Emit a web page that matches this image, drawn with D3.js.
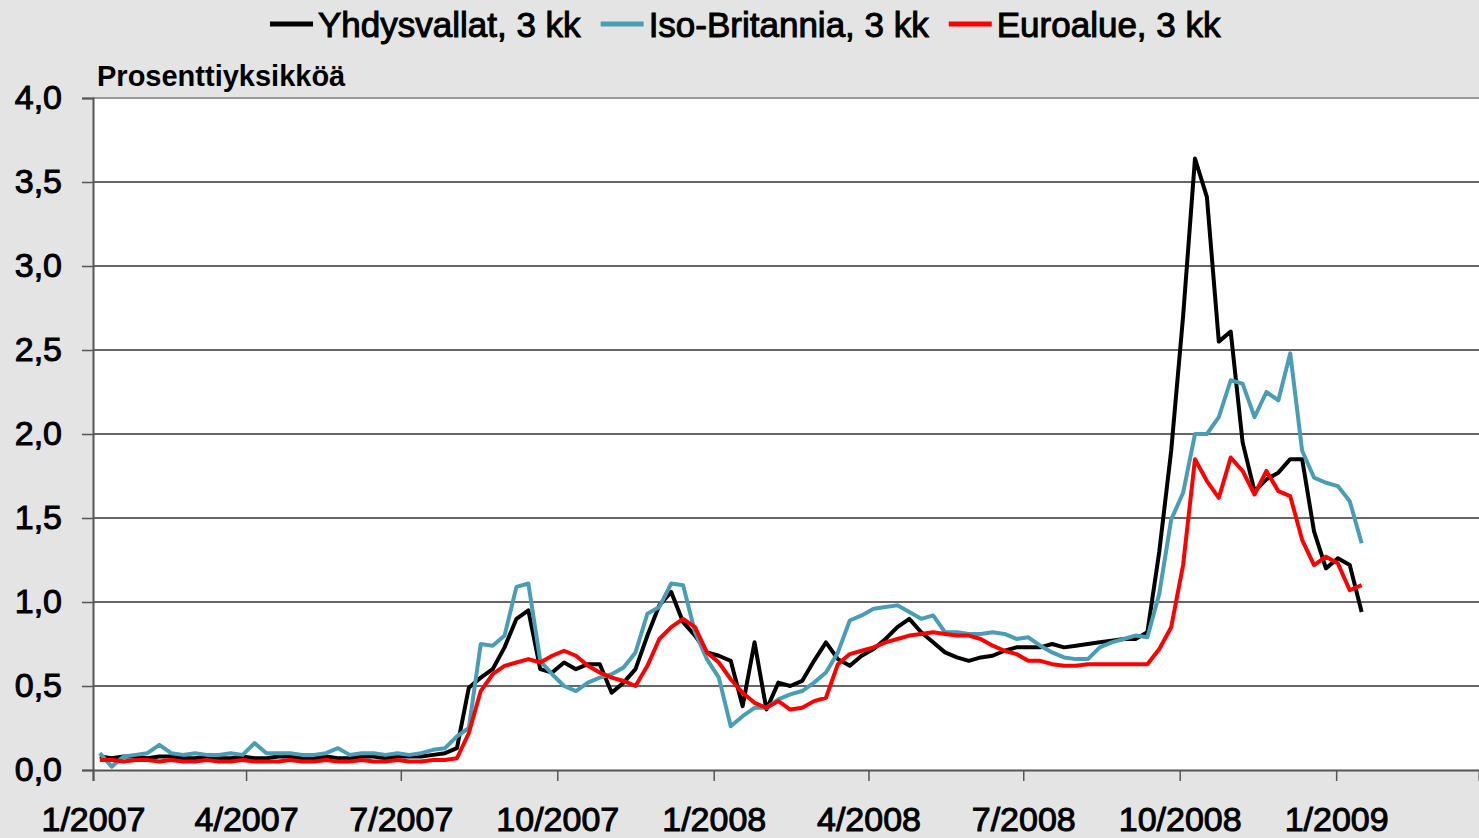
<!DOCTYPE html>
<html>
<head>
<meta charset="utf-8">
<script src="https://cdn.jsdelivr.net/npm/d3@7"></script>
<style>
  body { margin: 0; background: #e3e4e3; }
  text { font-family: "Liberation Sans", Arial, sans-serif; }
</style>
</head>
<body>
<svg id="chart"></svg>
<script>
// weekly observations (Fridays), Jan 2007 - Jan 2009
var weeks = d3.timeDay.range(new Date(2007, 0, 5), new Date(2009, 0, 17), 7);

var seriesNames = ["Yhdysvallat, 3 kk", "Iso-Britannia, 3 kk", "Euroalue, 3 kk"];
var seriesColors = ["#000000", "#4a9db6", "#ff0000"];

var usSpread = [
  0.08, 0.07, 0.08, 0.08, 0.07, 0.08, 0.08, 0.07, 0.07, 0.08,
  0.07, 0.07, 0.08, 0.07, 0.07, 0.08, 0.08, 0.07, 0.07, 0.08,
  0.07, 0.07, 0.08, 0.08, 0.07, 0.08, 0.08, 0.08, 0.09, 0.10,
  0.13, 0.49, 0.55, 0.60, 0.73, 0.90, 0.95, 0.60, 0.58, 0.64,
  0.60, 0.63, 0.63, 0.46, 0.52, 0.60, 0.80, 0.98, 1.06, 0.88,
  0.80, 0.70, 0.68, 0.65, 0.38, 0.76, 0.36, 0.52, 0.50, 0.53,
  0.65, 0.76, 0.66, 0.62, 0.68, 0.72, 0.78, 0.85, 0.90, 0.82,
  0.76, 0.70, 0.67, 0.65, 0.67, 0.68, 0.71, 0.73, 0.73, 0.73,
  0.75, 0.73, 0.74, 0.75, 0.76, 0.77, 0.78, 0.78, 0.82, 1.30,
  1.90, 2.70, 3.64, 3.41, 2.55, 2.61, 1.95, 1.66, 1.73, 1.77,
  1.85, 1.85, 1.42, 1.20, 1.26, 1.22, 0.94
];

var ukSpread = [
  0.10, 0.02, 0.08, 0.09, 0.10, 0.15, 0.10, 0.09, 0.10, 0.09,
  0.09, 0.10, 0.09, 0.16, 0.10, 0.10, 0.10, 0.09, 0.09, 0.10,
  0.13, 0.09, 0.10, 0.10, 0.09, 0.10, 0.09, 0.10, 0.12, 0.13,
  0.20, 0.25, 0.75, 0.74, 0.80, 1.09, 1.11, 0.65, 0.57, 0.50,
  0.47, 0.52, 0.55, 0.57, 0.61, 0.70, 0.93, 0.97, 1.11, 1.10,
  0.82, 0.66, 0.55, 0.26, 0.32, 0.37, 0.37, 0.42, 0.45, 0.47,
  0.52, 0.58, 0.70, 0.89, 0.92, 0.96, 0.97, 0.98, 0.94, 0.90,
  0.92, 0.82, 0.82, 0.81, 0.81, 0.82, 0.81, 0.78, 0.79, 0.74,
  0.70, 0.67, 0.66, 0.66, 0.73, 0.76, 0.78, 0.80, 0.79, 1.05,
  1.49, 1.65, 2.00, 2.00, 2.10, 2.32, 2.30, 2.10, 2.25, 2.20,
  2.48, 1.90, 1.74, 1.71, 1.69, 1.60, 1.35
];

var euroSpread = [
  0.06, 0.06, 0.05, 0.06, 0.06, 0.05, 0.06, 0.05, 0.05, 0.06,
  0.05, 0.05, 0.06, 0.05, 0.05, 0.05, 0.06, 0.05, 0.05, 0.06,
  0.05, 0.05, 0.06, 0.05, 0.05, 0.06, 0.05, 0.05, 0.06, 0.06,
  0.07, 0.22, 0.47, 0.57, 0.62, 0.64, 0.66, 0.64, 0.68, 0.71,
  0.68, 0.62, 0.58, 0.55, 0.53, 0.50, 0.62, 0.78, 0.85, 0.90,
  0.85, 0.70, 0.64, 0.54, 0.46, 0.40, 0.37, 0.41, 0.36, 0.37,
  0.41, 0.43, 0.63, 0.69, 0.71, 0.73, 0.76, 0.78, 0.80, 0.81,
  0.82, 0.81, 0.80, 0.80, 0.78, 0.74, 0.71, 0.69, 0.65, 0.65,
  0.63, 0.62, 0.62, 0.63, 0.63, 0.63, 0.63, 0.63, 0.63, 0.72,
  0.85, 1.22, 1.85, 1.72, 1.62, 1.86, 1.78, 1.64, 1.78, 1.66,
  1.63, 1.37, 1.22, 1.27, 1.23, 1.07, 1.10
];

var yTicks = [0, 0.5, 1, 1.5, 2, 2.5, 3, 3.5, 4];
var yLabel = "Prosenttiyksikköä";

var width = 1479, height = 838;
var plotLeft = 93, plotRight = 1479, plotTop = 98, plotBottom = 770;

var svg = d3.select("#chart")
    .attr("width", width)
    .attr("height", height);

svg.append("rect")
    .attr("width", width).attr("height", height)
    .attr("fill", "#e3e4e3");

svg.append("rect")
    .attr("x", plotLeft).attr("y", plotTop)
    .attr("width", plotRight - plotLeft).attr("height", plotBottom - plotTop)
    .attr("fill", "#ffffff");

var x = d3.scaleTime()
    .domain([new Date(2007, 0, 1), new Date(2009, 2, 26)])
    .range([plotLeft, plotRight]);

var y = d3.scaleLinear()
    .domain([0, 4])
    .range([plotBottom, plotTop]);

// horizontal grid
svg.append("g")
  .selectAll("line")
    .data(yTicks.filter(function(d) { return d > 0; }))
  .enter().append("line")
    .attr("x1", plotLeft).attr("x2", plotRight)
    .attr("y1", function(d) { return y(d); })
    .attr("y2", function(d) { return y(d); })
    .attr("stroke", function(d) { return d == 4 ? "#9a9a9a" : "#666"; })
    .attr("stroke-width", 2);

// y axis
var yAxis = svg.append("g")
    .attr("transform", "translate(" + plotLeft + ",0)")
    .call(d3.axisLeft(y)
      .tickValues(yTicks)
      .tickSize(11)
      .tickPadding(20)
      .tickFormat(function(d) { return d3.format(".1f")(d).replace(".", ","); }));

// x axis
var xAxis = svg.append("g")
    .attr("transform", "translate(0," + plotBottom + ")")
    .call(d3.axisBottom(x)
      .ticks(d3.timeMonth.every(3))
      .tickSize(11)
      .tickPadding(26)
      .tickFormat(function(d) { return (d.getMonth() + 1) + "/" + d.getFullYear(); }));

[yAxis, xAxis].forEach(function(ax) {
  ax.select(".domain").attr("stroke", "#555").attr("stroke-width", 2);
  ax.selectAll(".tick line").attr("stroke", "#555").attr("stroke-width", 1.5);
  ax.selectAll(".tick text")
      .style("font-family", "'Liberation Sans', Arial, sans-serif")
      .style("font-size", "34px")
      .attr("fill", "#000")
      .attr("stroke", "#000")
      .attr("stroke-width", 1);
});
xAxis.selectAll(".tick").filter(function(d) { return d > new Date(2009, 0, 2); }).remove();

svg.append("text")
    .attr("x", 97).attr("y", 86)
    .style("font-size", "29px")
    .style("font-weight", "bold")
    .text(yLabel);

// lines
var allSeries = [usSpread, ukSpread, euroSpread];
var line = d3.line()
    .x(function(d, i) { return x(weeks[i]); })
    .y(function(d) { return y(d); });

svg.append("g")
  .selectAll("path")
    .data(allSeries)
  .enter().append("path")
    .attr("d", line)
    .attr("fill", "none")
    .attr("stroke", function(d, i) { return seriesColors[i]; })
    .attr("stroke-width", 4)
    .attr("stroke-linejoin", "round");

// legend
var legend = svg.append("g");
var lx = 0;
seriesNames.forEach(function(name, i) {
  var item = legend.append("g").attr("transform", "translate(" + lx + ",0)");
  item.append("line")
      .attr("x1", 0).attr("x2", 43)
      .attr("y1", 24).attr("y2", 24)
      .attr("stroke", seriesColors[i])
      .attr("stroke-width", 5);
  var t = item.append("text")
      .attr("x", 48).attr("y", 37)
      .style("font-size", "35px")
      .attr("stroke", "#000")
      .attr("stroke-width", 1)
      .text(name);
  lx += 48 + t.node().getComputedTextLength() + 20;
});
legend.attr("transform", "translate(270,0)");
</script>
</body>
</html>
